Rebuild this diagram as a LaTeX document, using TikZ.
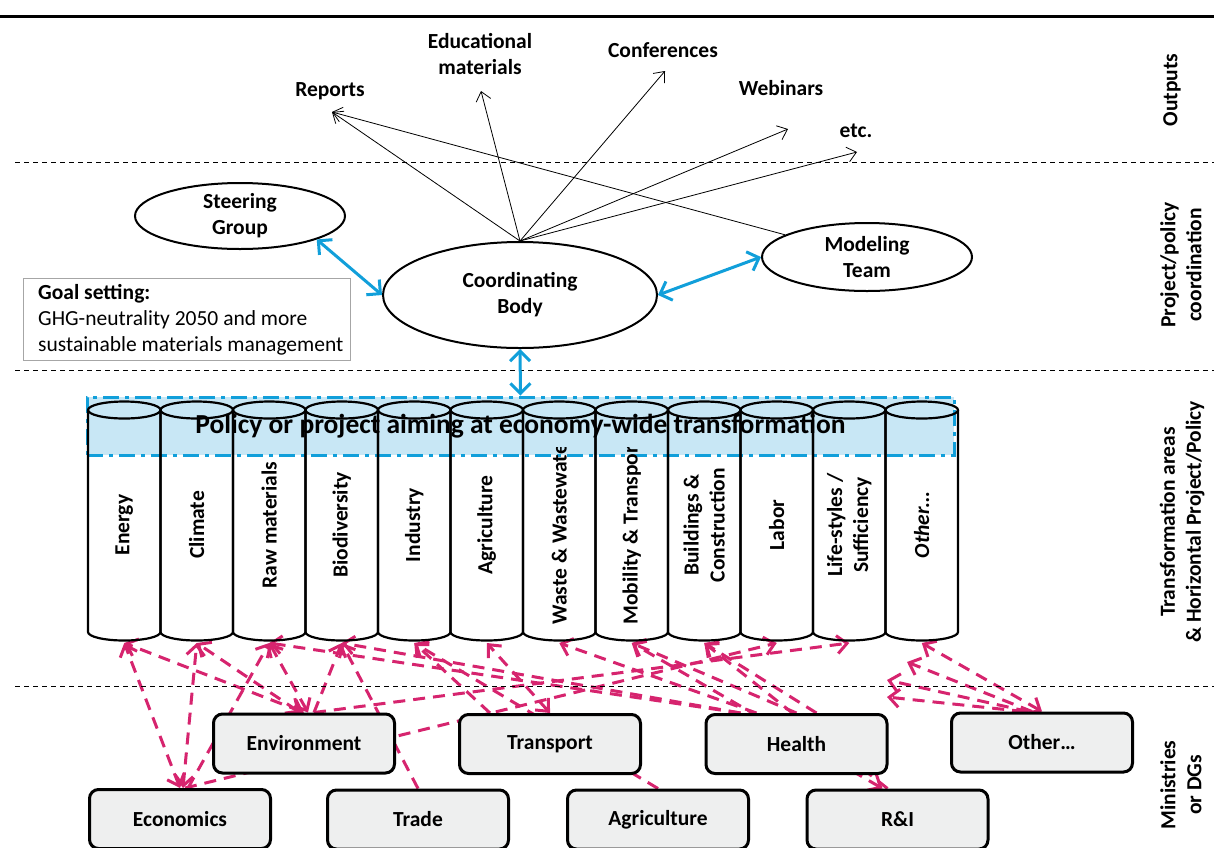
\documentclass[tikz,border=0pt]{standalone}
\usepackage{fontspec}
\setmainfont{Carlito}
\usetikzlibrary{arrows.meta,positioning,calc,shapes.geometric,backgrounds}

\definecolor{linkred}{HTML}{D6246E}
\definecolor{linkblue}{HTML}{119FDA}
\definecolor{bandblue}{HTML}{C8E7F5}
\definecolor{boxgray}{HTML}{EEEFEF}

\begin{document}
\begin{tikzpicture}[x=1pt,y=-1pt,
	every node/.style={font=\fontsize{21.5}{26}\selectfont\bfseries},
	oval/.style={draw,ellipse,line width=2pt,inner sep=0pt},
	ovaltext/.style={align=center},
	mini/.style={draw,rounded corners=9pt,line width=3pt,fill=boxgray,minimum width=181pt,minimum height=59pt},
	cylabel/.style={rotate=90,align=center},
	band/.style={fill=bandblue,draw=linkblue,line width=3pt,dash pattern=on 16pt off 6pt on 4pt off 6pt,minimum width=867pt,minimum height=58pt,font=\fontsize{27.5}{32}\selectfont\bfseries},
	outarr/.style={>={Straight Barb[length=9pt,width=15pt]},->,line width=0.8pt},
	bluearr/.style={>={Straight Barb[length=10pt,width=20pt]},<->,linkblue,line width=3pt},
	rlink/.style={>={Straight Barb[length=10pt,width=18pt]},->,linkred,line width=3pt,dash pattern=on 12pt off 8pt},
	rboth/.style={rlink,<->},
	sep/.style={line width=0.8pt,dash pattern=on 5pt off 4pt},
]
	\useasboundingbox (0,0) rectangle (1214,847);
	
	\draw[line width=3pt] (0,16) -- (1214,16);
	\foreach \y in {162,370,686}
		\draw[sep] (15,\y) -- (1214,\y);
	
	% outputs
	\node (reports) at (330,91) {Reports};
	\node[align=center] (edu) at (480,54) {Educational\\materials};
	\node (conf) at (663,50) {Conferences};
	\node (web) at (781,88) {Webinars};
	\node (etc) at (856,131) {etc.};
	
	\coordinate (tipreports) at (332,112);
	\coordinate (tipedu) at (481,91);
	\coordinate (tipconf) at (665,71);
	\coordinate (tipweb) at (788,129);
	\coordinate (tipetc) at (857,152);
	
	% coordination
	\node[oval,minimum width=210pt,minimum height=66pt,label={[ovaltext]center:{Steering\\Group}}] (steer) at (240,216) {};
	\node[oval,minimum width=274pt,minimum height=106pt,label={[ovaltext]center:{Coordinating\\Body}}] (coord) at (520,295) {};
	\node[oval,minimum width=210pt,minimum height=68pt,label={[ovaltext]center:{Modeling\\Team}}] (model) at (867,257) {};
	
	\node[draw=gray!70,line width=1.2pt,minimum width=327pt,minimum height=82pt,anchor=north west,inner sep=0pt] (goal) at (23,278) {};
	\node[anchor=north west,align=left,inner sep=0pt,font=\fontsize{21.5}{26}\selectfont\mdseries] (goaltext) at (38,284) {\textbf{Goal setting:}\\GHG-neutrality 2050 and more\\sustainable materials management};
	
	\draw[outarr] (coord.north) -- (tipreports);
	\draw[outarr] (coord.north) -- (tipedu);
	\draw[outarr] (coord.north) -- (tipconf);
	\draw[outarr] (coord.north) -- (tipweb);
	\draw[outarr] (coord.north) -- (tipetc);
	\draw[outarr] (model) -- (tipreports);
	
	% transformation areas
	\node[band] (policy) at (520.5,426) {\raisebox{-3pt}{Policy or project aiming at economy-wide transformation}};
	\foreach \i in {0,...,11}{
		\pgfmathsetmacro{\cx}{124.25+72.5*\i}
		\draw[line width=2.2pt] (\cx-36.25,410) -- (\cx-36.25,632) arc[start angle=180,end angle=0,x radius=36.25,y radius=8.5] -- (\cx+36.25,410);
		\draw[line width=2.2pt] (\cx,410) ellipse[x radius=36.25,y radius=8.5];
		\coordinate (cyl\i) at (\cx,643);
	}
	\foreach \i/\lab in {0/Energy,1/Climate,2/Raw materials,3/Biodiversity,4/Industry,5/Agriculture,8/{Buildings \&\\Construction},9/Labor,10/{Life-styles /\\Sufficiency},11/{\textit{Other…}}}
		\node[cylabel] (area\i) at (124.25+72.5*\i,525) {\lab};
	\begin{scope}
		\clip (88,447) rectangle (958,640);
		\node[cylabel,anchor=west] (area6) at (559.25,628) {Waste \& Wastewater};
		\node[cylabel,anchor=west] (area7) at (631.75,628) {Mobility \& Transport};
	\end{scope}
	
	\draw[bluearr] (steer.-17) -- (coord.west);
	\draw[bluearr] (model.west) -- (coord.east);
	\draw[bluearr] (coord.south) -- (policy.north);
	
	% ministries
	\node[mini] (env) at (304,743.5) {Environment};
	\node[mini] (trans) at (550,744) {Transport};
	\node[mini] (health) at (796.5,744) {Health};
	\node[mini] (other) at (1042,742.5) {Other…};
	\node[mini] (eco) at (180,819) {Economics};
	\node[mini] (trade) at (418,819.5) {Trade};
	\node[mini] (agri) at (658,819.5) {Agriculture};
	\node[mini] (ri) at (897.5,819.5) {R\&I};
	
	\coordinate (free1) at (907,662);
	\coordinate (free2) at (887,680);
	\coordinate (free3) at (887,697);
	
	\begin{scope}[on background layer]
		\draw[rboth] (eco.north) -- (cyl0);
		\draw[rboth] ([xshift=3pt]eco.north) -- (cyl1);
		\draw[rlink] ([xshift=8pt]eco.north) -- (cyl2);
		\draw[rlink] ([xshift=5pt]eco.north) -- (cyl9);
		\draw[rboth] (env.north) -- (cyl0);
		\draw[rboth] ([xshift=-4pt]env.north) -- (cyl1);
		\draw[rboth] ([xshift=4pt]env.north) -- (cyl2);
		\draw[rlink] ([xshift=10pt]env.north) -- (cyl3);
		\draw[rlink] ([xshift=10pt]env.north) -- (cyl10);
		\draw[rlink] (trade.north) -- (cyl3);
		\draw[rboth] (trans.north) -- (cyl5);
		\draw[rlink] ([xshift=-60pt]trans.north) -- (cyl4);
		\draw[rlink] ([xshift=-56pt]health.north) -- (cyl3);
		\draw[rlink] ([xshift=-56pt]health.north) -- (cyl2);
		\draw[rlink] ([xshift=-40pt]health.north) -- (cyl6);
		\draw[rlink] (health.north) -- (cyl7);
		\draw[rlink] ([xshift=20pt]health.north) -- (cyl8);
		\draw[rboth] ([xshift=-15pt]ri.north) -- (cyl7);
		\draw[rlink] ([xshift=-10pt]ri.north) -- (cyl8);
		\draw[rlink] (agri.north) -- (cyl4);
		\draw[rboth] (other.north) -- (cyl11);
		\draw[rlink] ([xshift=-10pt]other.north) -- (free1);
		\draw[rlink] ([xshift=-14pt]other.north) -- (free2);
		\draw[rlink] ([xshift=-18pt]other.north) -- (free3);
	\end{scope}
	
	% layer labels
	\node[rotate=90] (lblout) at (1172,90) {Outputs};
	\node[rotate=90,align=center] (lblcoord) at (1181,265) {Project/policy\\coordination};
	\node[rotate=90,align=center] (lbltrans) at (1182,522) {Transformation areas\\\& Horizontal Project/Policy};
	\node[rotate=90,align=center] (lblmin) at (1181,785) {Ministries\\or DGs};
\end{tikzpicture}
\end{document}
